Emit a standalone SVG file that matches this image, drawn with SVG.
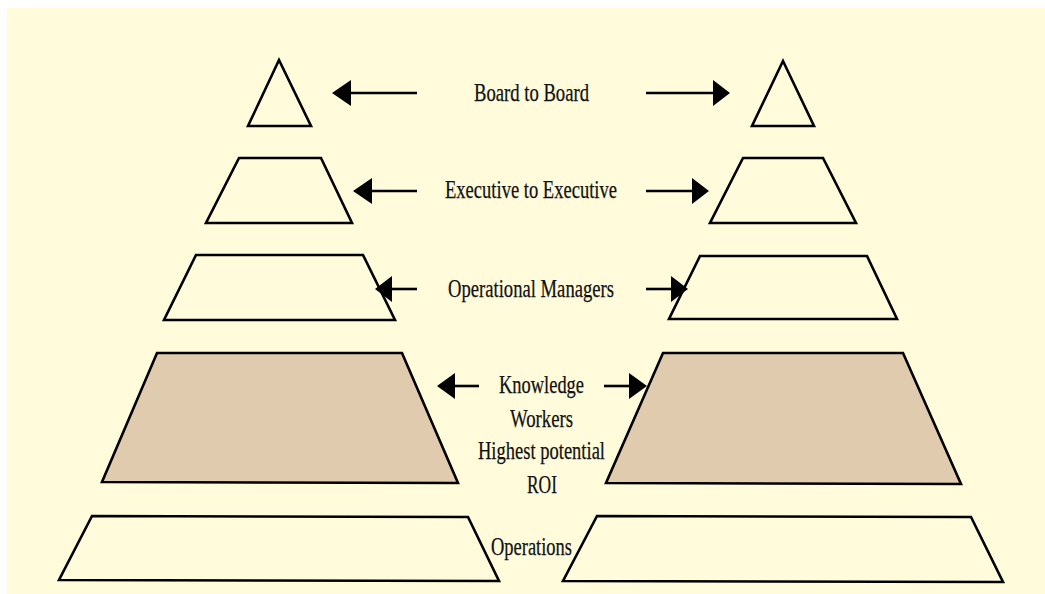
<svg xmlns="http://www.w3.org/2000/svg" width="1045" height="594" viewBox="0 0 1045 594">
<defs>
<style>
.shape{fill:none;stroke:#000;stroke-width:2.6;stroke-linejoin:miter}
.hl{fill:#e1cbaf}
.lbl{font-family:"Liberation Serif","Times New Roman",serif;font-size:26px;fill:#111;stroke:#111;stroke-width:0.25}
.shaft{stroke:#000;stroke-width:2.6;fill:none}
.head{fill:#000}
</style>
</defs>
<rect x="0" y="0" width="1045" height="594" fill="#ffffff"/>
<rect x="7" y="8" width="1038" height="586" fill="#fffbdb"/>

<g id="left-pyramid">
<g id="left-board"><polygon class="shape" points="279,60 311,126 248,126"/></g>
<g id="left-executive"><polygon class="shape" points="239,158 321,158 352,223 206,223"/></g>
<g id="left-operational"><polygon class="shape" points="196,255 363,255 395,320 164,320"/></g>
<g id="left-knowledge"><polygon class="shape hl" points="157,353 402,353 458,483 102,482"/></g>
<g id="left-operations"><polygon class="shape" points="92,516 468,517 499,581 59,580"/></g>
</g>

<g id="right-pyramid">
<g id="right-board"><polygon class="shape" points="783,61 814,126 752,126"/></g>
<g id="right-executive"><polygon class="shape" points="743,158 823,158 856,223 710,223"/></g>
<g id="right-operational"><polygon class="shape" points="700,256 867,256 897,319 669,319"/></g>
<g id="right-knowledge"><polygon class="shape hl" points="663,353 903,353 961,484 606,483"/></g>
<g id="right-operations"><polygon class="shape" points="597,516 971,517 1003,582 563,581"/></g>
</g>

<g id="connectors">
<line class="shaft" x1="350" y1="93" x2="417" y2="93"/>
<polygon class="head" points="332,93 351,80 351,106"/>
<line class="shaft" x1="646" y1="93" x2="714" y2="93"/>
<polygon class="head" points="730,93 713,80 713,106"/>

<line class="shaft" x1="371" y1="191" x2="417" y2="191"/>
<polygon class="head" points="353,191 372,178 372,204"/>
<line class="shaft" x1="646" y1="191" x2="693" y2="191"/>
<polygon class="head" points="709,191 692,178 692,204"/>

<line class="shaft" x1="391" y1="289" x2="417" y2="289"/>
<polygon class="head" points="375,289 392,276 392,302"/>
<line class="shaft" x1="646" y1="289" x2="672" y2="289"/>
<polygon class="head" points="688,289 671,276 671,302"/>

<line class="shaft" x1="454" y1="386" x2="479" y2="386"/>
<polygon class="head" points="437,386 455,373 455,399"/>
<line class="shaft" x1="604" y1="386" x2="630" y2="386"/>
<polygon class="head" points="647,386 629,373 629,399"/>
</g>

<g id="labels">
<text class="lbl" x="474" y="101" textLength="115" lengthAdjust="spacingAndGlyphs">Board to Board</text>
<text class="lbl" x="445" y="198" textLength="172" lengthAdjust="spacingAndGlyphs">Executive to Executive</text>
<text class="lbl" x="448" y="297" textLength="166" lengthAdjust="spacingAndGlyphs">Operational Managers</text>
<text class="lbl" x="499" y="393" textLength="85" lengthAdjust="spacingAndGlyphs">Knowledge</text>
<text class="lbl" x="510" y="427" textLength="63" lengthAdjust="spacingAndGlyphs">Workers</text>
<text class="lbl" x="478" y="459" textLength="127" lengthAdjust="spacingAndGlyphs">Highest potential</text>
<text class="lbl" x="527" y="493" textLength="30" lengthAdjust="spacingAndGlyphs">ROI</text>
<text class="lbl" x="491" y="555" textLength="81" lengthAdjust="spacingAndGlyphs">Operations</text>
</g>
</svg>
